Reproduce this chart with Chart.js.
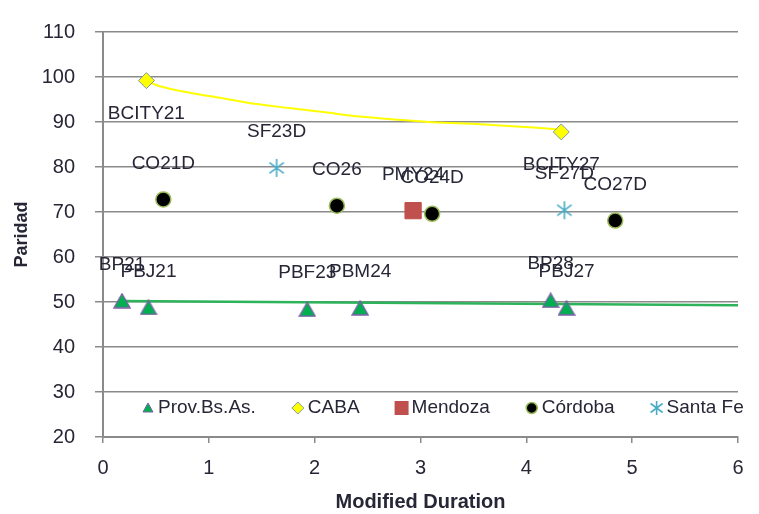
<!DOCTYPE html>
<html><head><meta charset="utf-8">
<script src="https://cdn.jsdelivr.net/npm/chart.js@4.4.1/dist/chart.umd.min.js"></script>
<style>html,body{margin:0;padding:0;background:#fff}#wrap{width:759px;height:514px;position:relative}</style>
</head><body><div id="wrap"><canvas id="c"></canvas></div>
<script>
// ---- data ----
const seriesNames = ['Prov.Bs.As.', 'CABA', 'Mendoza', 'Córdoba', 'Santa Fe'];
const provX = [0.18, 0.43, 1.93, 2.43, 4.23, 4.38];
const provY = [50.3, 48.8, 48.4, 48.7, 50.4, 48.7];
const provLabels = ['BP21', 'PBJ21', 'PBF23', 'PBM24', 'BP28', 'PBJ27'];
const cabaX = [0.41, 4.33];
const cabaY = [99.2, 87.8];
const cabaLabels = ['BCITY21', 'BCITY27'];
const mzaX = [2.93];
const mzaY = [70.3];
const mzaLabels = ['PMY24'];
const cbaX = [0.57, 2.21, 3.11, 4.84];
const cbaY = [72.8, 71.4, 69.6, 68.1];
const cbaLabels = ['CO21D', 'CO26', 'CO24D', 'CO27D'];
const sfX = [1.64, 4.36];
const sfY = [79.8, 70.4];
const sfLabels = ['SF23D', 'SF27D'];
const cabaTrendX = [0.41, 0.53, 0.82, 1.13, 1.45, 1.76, 2.08, 2.43, 2.79, 3.07, 3.5, 3.75, 4.1, 4.33];
const cabaTrendY = [99.1, 98.0, 96.5, 95.3, 94.0, 93.1, 92.2, 91.2, 90.5, 90.0, 89.6, 89.2, 88.7, 88.3];
const provTrendX = [0.16, 6];
const provTrendY = [50.2, 49.3];
const xTicks = [0, 1, 2, 3, 4, 5, 6];
const yTicks = [20, 30, 40, 50, 60, 70, 80, 90, 100, 110];
const xTitle = 'Modified Duration';
const yTitle = 'Paridad';

// ---- styles ----
const GRID = '#8a8a8a';
const TXT = '#262636';
const FONT = '"Liberation Sans", Arial, sans-serif';
const C_TRI = '#00B050', C_TRI_B = '#7B5EA7';
const C_DIA = '#FFFF00', C_DIA_B = '#7F98A8';
const C_SQ = '#C0504D';
const C_CIR_B = '#9BBB59';
const C_STAR = '#4BACC6';

function pts(xs, ys) { return xs.map((x, i) => ({ x: x, y: ys[i] })); }

function makeTriangle(w, h) {
  const c = document.createElement('canvas');
  c.width = w + 2; c.height = h + 2;
  const g = c.getContext('2d');
  g.beginPath();
  g.moveTo((w + 2) / 2, 1); g.lineTo(w + 1, h + 1); g.lineTo(1, h + 1); g.closePath();
  g.fillStyle = C_TRI; g.fill();
  g.lineWidth = 1.3; g.strokeStyle = C_TRI_B; g.stroke();
  return c;
}
function makeStar(s) {
  const c = document.createElement('canvas');
  c.width = s; c.height = s;
  const g = c.getContext('2d');
  g.strokeStyle = C_STAR; g.lineWidth = 1.6;
  const m = s / 2, r = s / 2 - 1, d = r * 0.8;
  g.beginPath();
  g.moveTo(m, m - r); g.lineTo(m, m + r);
  g.moveTo(m - d, m - d * 0.75); g.lineTo(m + d, m + d * 0.75);
  g.moveTo(m + d, m - d * 0.75); g.lineTo(m - d, m + d * 0.75);
  g.stroke();
  return c;
}
const triImg = makeTriangle(16, 14);
const starImg = makeStar(20);

function drawLegendMarker(ctx, kind, x, y) {
  ctx.save();
  ctx.beginPath();
  if (kind === 0) {
    ctx.moveTo(x, y - 5); ctx.lineTo(x + 5, y + 4); ctx.lineTo(x - 5, y + 4); ctx.closePath();
    ctx.fillStyle = C_TRI; ctx.fill(); ctx.lineWidth = 1; ctx.strokeStyle = C_TRI_B; ctx.stroke();
  } else if (kind === 1) {
    ctx.moveTo(x, y - 6); ctx.lineTo(x + 6, y); ctx.lineTo(x, y + 6); ctx.lineTo(x - 6, y); ctx.closePath();
    ctx.fillStyle = C_DIA; ctx.fill(); ctx.lineWidth = 1; ctx.strokeStyle = C_DIA_B; ctx.stroke();
  } else if (kind === 2) {
    ctx.fillStyle = C_SQ; ctx.fillRect(x - 7, y - 7, 14, 14);
  } else if (kind === 3) {
    ctx.arc(x, y, 5.5, 0, Math.PI * 2);
    ctx.fillStyle = '#000'; ctx.fill(); ctx.lineWidth = 1.5; ctx.strokeStyle = C_CIR_B; ctx.stroke();
  } else {
    ctx.strokeStyle = C_STAR; ctx.lineWidth = 1.6;
    ctx.moveTo(x, y - 7); ctx.lineTo(x, y + 7);
    ctx.moveTo(x - 6, y - 4.5); ctx.lineTo(x + 6, y + 4.5);
    ctx.moveTo(x + 6, y - 4.5); ctx.lineTo(x - 6, y + 4.5);
    ctx.stroke();
  }
  ctx.restore();
}

const pointLabelPlugin = {
  id: 'pointLabels',
  afterDatasetsDraw(chart) {
    const ctx = chart.ctx;
    ctx.save();
    ctx.font = '19px ' + FONT;
    ctx.fillStyle = TXT;
    ctx.textAlign = 'center';
    ctx.textBaseline = 'middle';
    chart.data.datasets.forEach((ds, i) => {
      if (!ds.pointLabels) return;
      const meta = chart.getDatasetMeta(i);
      meta.data.forEach((el, j) => {
        ctx.fillText(ds.pointLabels[j], el.x, el.y + ds.labelOffset);
      });
    });
    ctx.restore();
  }
};

const legendPlugin = {
  id: 'insideLegend',
  afterDraw(chart) {
    const ctx = chart.ctx;
    ctx.save();
    ctx.font = '19px ' + FONT;
    ctx.fillStyle = TXT;
    ctx.textAlign = 'left';
    ctx.textBaseline = 'middle';
    const y = 408;
    let x = 148;
    seriesNames.forEach((name, k) => {
      drawLegendMarker(ctx, k, x, y);
      ctx.fillStyle = TXT;
      ctx.fillText(name, x + 10, y);
      x = x + 10 + ctx.measureText(name).width + 42;
    });
    ctx.restore();
  }
};

new Chart(document.getElementById('c'), {
  type: 'scatter',
  data: {
    datasets: [
      { label: 'trendProv', data: pts(provTrendX, provTrendY), showLine: true, pointRadius: 0,
        borderColor: '#2DB35A', borderWidth: 2.5, order: 10 },
      { label: 'trendCaba', data: pts(cabaTrendX, cabaTrendY), showLine: true, pointRadius: 0,
        borderColor: '#FFFF00', borderWidth: 2, cubicInterpolationMode: 'monotone', order: 10 },
      { label: seriesNames[0], data: pts(provX, provY), pointStyle: triImg, pointRadius: 8,
        pointLabels: provLabels, labelOffset: -36, order: 1 },
      { label: seriesNames[1], data: pts(cabaX, cabaY), pointStyle: 'rectRot', pointRadius: 8,
        backgroundColor: C_DIA, borderColor: C_DIA_B, borderWidth: 1,
        pointLabels: cabaLabels, labelOffset: 33, order: 1 },
      { label: seriesNames[2], data: pts(mzaX, mzaY), pointStyle: 'rect', pointRadius: 11.5,
        backgroundColor: C_SQ, borderColor: C_SQ, borderWidth: 1,
        pointLabels: mzaLabels, labelOffset: -36, order: 1 },
      { label: seriesNames[3], data: pts(cbaX, cbaY), pointStyle: 'circle', pointRadius: 7.5,
        backgroundColor: '#000', borderColor: C_CIR_B, borderWidth: 1.5,
        pointLabels: cbaLabels, labelOffset: -36, order: 1 },
      { label: seriesNames[4], data: pts(sfX, sfY), pointStyle: starImg, pointRadius: 10,
        pointLabels: sfLabels, labelOffset: -36, order: 1 }
    ]
  },
  options: {
    responsive: true,
    maintainAspectRatio: false,
    animation: false,
    events: [],
    layout: { padding: { top: 25, right: 21, bottom: 0, left: 0 } },
    plugins: { legend: { display: false }, tooltip: { enabled: false } },
    scales: {
      x: {
        type: 'linear', min: xTicks[0], max: xTicks[xTicks.length - 1],
        afterBuildTicks: s => { s.ticks = xTicks.map(v => ({ value: v })); },
        afterFit: s => { s.height = 77; },
        grid: { drawOnChartArea: false, drawTicks: true, tickLength: 6, color: GRID, lineWidth: 1.5 },
        border: { display: true, color: GRID, width: 2 },
        ticks: { font: { family: FONT, size: 20 }, color: TXT, padding: 13, maxRotation: 0 },
        title: { display: true, text: xTitle, font: { family: FONT, size: 20, weight: 'bold' }, color: TXT,
          padding: { top: 0, bottom: 0 } }
      },
      y: {
        type: 'linear', min: yTicks[0], max: yTicks[yTicks.length - 1],
        afterBuildTicks: s => { s.ticks = yTicks.map(v => ({ value: v })); },
        afterFit: s => { s.width = 103; },
        grid: { drawOnChartArea: true, drawTicks: true, tickLength: 8, color: GRID, lineWidth: 1.5 },
        border: { display: true, color: GRID, width: 2 },
        ticks: { font: { family: FONT, size: 20 }, color: TXT, padding: 20 },
        title: { display: true, text: yTitle, font: { family: FONT, size: 18, weight: 'bold' }, color: TXT,
          padding: { top: 11, bottom: 0 } }
      }
    }
  },
  plugins: [pointLabelPlugin, legendPlugin]
});
</script>
</body></html>
